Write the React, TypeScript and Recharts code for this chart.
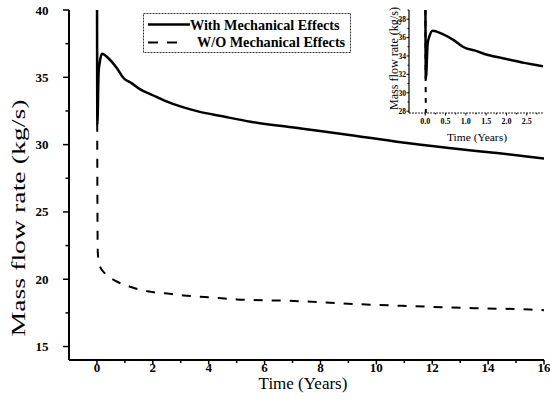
import React from 'react';
import { LineChart, Line, XAxis, YAxis, Legend } from 'recharts';

// ---- data ----
const timeWith = [0, 0.015, 0.06, 0.1, 0.18, 0.42, 0.71, 0.95, 1.25, 1.55, 1.97, 2.44, 3.04, 3.65, 4.5, 5.5, 7.3, 9.1, 10.8, 12.6, 14.4, 16];
const flowWith = [45, 31.5, 35.4, 36.1, 36.75, 36.4, 35.7, 34.95, 34.55, 34.1, 33.7, 33.25, 32.8, 32.45, 32.1, 31.7, 31.2, 30.7, 30.2, 29.75, 29.35, 28.97];
const timeWithout = [0, 0.01, 0.03, 0.1, 0.3, 0.65, 1.25, 1.8, 2.45, 3.1, 3.7, 4.35, 5, 5.6, 6.8, 9.3, 11.3, 13.5, 15.5, 16];
const flowWithout = [45, 31, 22, 21, 20.4, 19.9, 19.4, 19.1, 18.95, 18.8, 18.7, 18.6, 18.5, 18.45, 18.4, 18.15, 18.0, 17.85, 17.75, 17.7];

const mainXTicks = [0, 1, 2, 3, 4, 5, 6, 7, 8, 9, 10, 11, 12, 13, 14, 15, 16];
const mainXLabels = [0, 2, 4, 6, 8, 10, 12, 14, 16];
const mainYTicks = [15, 17.5, 20, 22.5, 25, 27.5, 30, 32.5, 35, 37.5, 40];
const mainYLabels = [15, 20, 25, 30, 35, 40];

const insetXTicks = [0, 0.25, 0.5, 0.75, 1, 1.25, 1.5, 1.75, 2, 2.25, 2.5, 2.75];
const insetXLabels = [0, 0.5, 1, 1.5, 2, 2.5];
const insetYTicks = [28, 29, 30, 31, 32, 33, 34, 35, 36, 37, 38, 39];
const insetYLabels = [28, 30, 32, 34, 36, 38];

const seriesNames = ['With Mechanical Effects', 'W/O Mechanical Effects'];

const withData = timeWith.map((t, i) => ({ t, v: flowWith[i] }));
const withoutData = timeWithout.map((t, i) => ({ t, v: flowWithout[i] }));

const FONT = '"Liberation Serif", "Times New Roman", Times, serif';

// ---- ticks ----
const MainXTick = (props: any) => {
  const { x, y, payload } = props;
  const v = payload.value;
  const major = mainXLabels.includes(v);
  return (
    <g>
      <line x1={x} x2={x} y1={y} y2={y + (major ? 4.5 : 3)} stroke="#000" strokeWidth={1.5} />
      {major && (
        <text x={x} y={y + 12} textAnchor="middle" fontFamily={FONT} fontWeight="bold" fontSize={13} fill="#000">
          {v}
        </text>
      )}
    </g>
  );
};

const MainYTick = (props: any) => {
  const { x, y, payload } = props;
  const v = payload.value;
  const major = mainYLabels.includes(v);
  return (
    <g>
      <line x1={x} x2={x - (major ? 6 : 3.5)} y1={y} y2={y} stroke="#000" strokeWidth={1.5} />
      {major && (
        <text x={x - 20.5} y={y + 4.5} textAnchor="end" fontFamily={FONT} fontWeight="bold" fontSize={13} fill="#000">
          {v}
        </text>
      )}
    </g>
  );
};

const InsetXTick = (props: any) => {
  const { x, y, payload } = props;
  const v = payload.value;
  const major = insetXLabels.includes(v);
  return (
    <g>
      <line x1={x} x2={x} y1={y} y2={y + (major ? 2.5 : 1.5)} stroke="#000" strokeWidth={1} />
      {major && (
        <text x={x} y={y + 11} textAnchor="middle" fontFamily={FONT} fontWeight="bold" fontSize={8} fill="#000">
          {v.toFixed(1)}
        </text>
      )}
    </g>
  );
};

const InsetYTick = (props: any) => {
  const { x, y, payload } = props;
  const v = payload.value;
  const major = insetYLabels.includes(v);
  return (
    <g>
      <line x1={x} x2={x - (major ? 2.5 : 1.5)} y1={y} y2={y} stroke="#000" strokeWidth={1} />
      {major && (
        <text x={x - 3} y={y + 2.8} textAnchor="end" fontFamily={FONT} fontWeight="bold" fontSize={7.5} fill="#000">
          {v}
        </text>
      )}
    </g>
  );
};

const LegendBox = () => (
  <svg width={230} height={41} style={{ display: 'block', overflow: 'visible' }}>
    <rect x={0.5} y={0.5} width={207} height={39} fill="#fff" stroke="#333" strokeWidth={1} strokeDasharray="2 1" />
    <line x1={5} x2={47} y1={11.5} y2={11.5} stroke="#000" strokeWidth={2.5} />
    <text x={47} y={16.5} fontFamily={FONT} fontWeight="bold" fontSize={14.2} fill="#000">
      {seriesNames[0]}
    </text>
    <line x1={5} x2={35} y1={29.5} y2={29.5} stroke="#000" strokeWidth={2} strokeDasharray="10 9" />
    <text x={54} y={34} fontFamily={FONT} fontWeight="bold" fontSize={14.2} fill="#000">
      {seriesNames[1]}
    </text>
  </svg>
);

export default function App() {
  return (
    <div style={{ position: 'absolute', left: 0, top: 0, width: 550, height: 406, background: '#fff', overflow: 'hidden' }}>
      <div style={{ position: 'absolute', left: 0, top: 0 }}>
        <LineChart width={550} height={406} margin={{ top: 10, right: 6, bottom: 0, left: 0 }}>
          <XAxis
            xAxisId="main"
            dataKey="t"
            type="number"
            domain={[-1, 16]}
            ticks={mainXTicks}
            interval={0}
            tickSize={0}
            tickMargin={0}
            tickLine={false}
            tick={<MainXTick />}
            height={46}
            axisLine={{ stroke: '#000', strokeWidth: 2 }}
            allowDataOverflow
            label={(p: any) => (
              <text x={303} y={389} textAnchor="middle" fontFamily={FONT} fontSize={17} fill="#000">
                Time (Years)
              </text>
            )}
          />
          <XAxis xAxisId="top" orientation="top" type="number" domain={[-1, 16]} height={0} tick={false} tickLine={false} axisLine={{ stroke: '#222', strokeWidth: 1, strokeDasharray: '2 1' }} />
          <YAxis
            yAxisId="main"
            type="number"
            domain={[14, 40]}
            ticks={mainYTicks}
            interval={0}
            tickSize={0}
            tickMargin={0}
            tickLine={false}
            tick={<MainYTick />}
            width={69}
            axisLine={{ stroke: '#000', strokeWidth: 2 }}
            allowDataOverflow
            label={(p: any) => (
              <text x={25} y={218} transform="rotate(-90 25 218)" textAnchor="middle" fontFamily={FONT} fontSize={18} fill="#000" textLength={237} lengthAdjust="spacingAndGlyphs">
                Mass flow rate (kg/s)
              </text>
            )}
          />
          <YAxis yAxisId="right" orientation="right" type="number" domain={[14, 40]} width={0} tick={false} tickLine={false} axisLine={{ stroke: '#000', strokeWidth: 1.5 }} />
          <Legend
            layout="horizontal"
            verticalAlign="middle"
            align="center"
            wrapperStyle={{ left: 143, top: 13, width: 230, height: 41 }}
            content={() => <LegendBox />}
          />
          <Line xAxisId="main" yAxisId="main" data={withData} dataKey="v" name={seriesNames[0]} type="monotone" stroke="#000" strokeWidth={2.5} dot={false} isAnimationActive={false} />
          <Line xAxisId="main" yAxisId="main" data={withoutData} dataKey="v" name={seriesNames[1]} type="monotone" stroke="#000" strokeWidth={2} strokeDasharray="9 9" dot={false} isAnimationActive={false} />
        </LineChart>
      </div>
      <div style={{ position: 'absolute', left: 370, top: 0 }}>
        <LineChart width={180} height={160} margin={{ top: 10, right: 7, bottom: 0, left: 0 }}>
          <XAxis
            xAxisId="in"
            dataKey="t"
            type="number"
            domain={[-0.4, 2.9]}
            ticks={insetXTicks}
            interval={0}
            tickSize={0}
            tickMargin={0}
            tickLine={false}
            tick={<InsetXTick />}
            height={47}
            axisLine={{ stroke: '#222', strokeWidth: 1, strokeDasharray: '2 1' }}
            allowDataOverflow
            label={(p: any) => (
              <text x={107} y={141} textAnchor="middle" fontFamily={FONT} fontSize={11} fill="#000" textLength={60} lengthAdjust="spacingAndGlyphs">
                Time (Years)
              </text>
            )}
          />
          <XAxis xAxisId="intop" orientation="top" type="number" domain={[-0.4, 2.9]} height={0} tick={false} tickLine={false} axisLine={{ stroke: '#000', strokeWidth: 1.5 }} />
          <YAxis
            yAxisId="in"
            type="number"
            domain={[27.8, 39]}
            ticks={insetYTicks}
            interval={0}
            tickSize={0}
            tickMargin={0}
            tickLine={false}
            tick={<InsetYTick />}
            width={39}
            axisLine={{ stroke: '#000', strokeWidth: 1.2 }}
            allowDataOverflow
            label={(p: any) => (
              <text x={28} y={58.5} transform="rotate(-90 28 58.5)" textAnchor="middle" fontFamily={FONT} fontSize={11.5} fill="#000" textLength={103} lengthAdjust="spacingAndGlyphs">
                Mass flow rate (kg/s)
              </text>
            )}
          />
          <Line xAxisId="in" yAxisId="in" data={withData} dataKey="v" type="monotone" stroke="#000" strokeWidth={2.5} dot={false} isAnimationActive={false} />
          <Line xAxisId="in" yAxisId="in" data={withoutData} dataKey="v" type="monotone" stroke="#000" strokeWidth={2} strokeDasharray="5 6" dot={false} isAnimationActive={false} />
        </LineChart>
      </div>
    </div>
  );
}
